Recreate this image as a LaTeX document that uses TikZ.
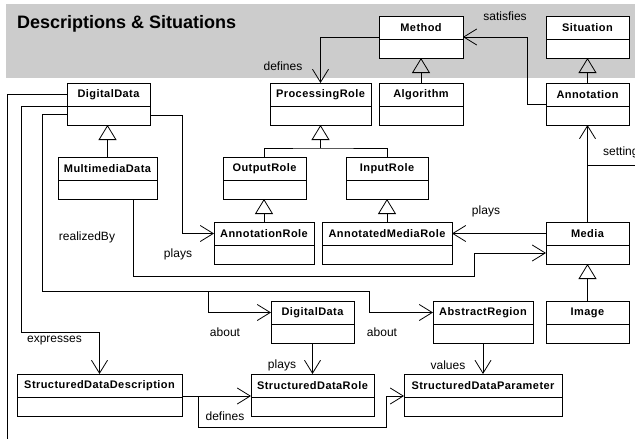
\documentclass[tikz,border=0pt]{standalone}
\usepackage{fontspec}
\setmainfont{Liberation Sans}
\newfontfamily\clsfont[LetterSpace=4]{Liberation Sans}
\usetikzlibrary{arrows.meta,calc}
\definecolor{bandgray}{RGB}{204,204,204}
\tikzset{
  clsbox/.style={draw=black, line width=0.9pt, fill=white, rectangle, inner sep=0pt, outer sep=0pt},
  clsname/.style={font=\clsfont\bfseries\fontsize{11}{13}\selectfont, inner sep=0pt},
  divline/.style={line width=0.9pt},
  conn/.style={line width=0.8pt, draw=black},
  assoc/.style={conn, -{Straight Barb[length=13pt,width=16pt,line width=0.8pt]}},
  gen/.style={conn, -{Triangle[open,length=15pt,width=18pt,line width=0.8pt]}},
  lbl/.style={font=\fontsize{12}{14}\selectfont, inner sep=0pt},
}
\newcommand\umlcls[6]{%
  \node[clsbox, minimum width={#4-#2}, minimum height={#5-#3}] (#1) at ({(#2+#4)/2},{(#3+#5)/2}) {};
  \node[clsname] (#1-t) at ({(#2+#4)/2},{#3+11.5}) {#6};
  \draw[divline] ({#2},{#3+23}) -- ({#4},{#3+23});
}
\begin{document}
\begin{tikzpicture}[x=1pt,y=-1pt]
\useasboundingbox (0,0) rectangle (635,439);
\clip (0,0) rectangle (635,439);
\fill[bandgray] (6,4) rectangle (640,78);
\node[font=\bfseries\fontsize{18}{20}\selectfont, anchor=base west, inner sep=0pt] (title) at (17,28) {Descriptions \& Situations};

\umlcls{meth}{379}{16}{463}{58}{Method}
\umlcls{sit}{546}{16}{629}{58}{Situation}
\umlcls{dd}{67}{83}{150}{125}{DigitalData}
\umlcls{pr}{270}{83}{371}{125}{ProcessingRole}
\umlcls{alg}{379}{83}{463}{125}{Algorithm}
\umlcls{ann}{546}{83}{629}{125}{Annotation}
\umlcls{mmd}{58}{157}{157}{199}{MultimediaData}
\umlcls{outr}{223}{157}{306}{199}{OutputRole}
\umlcls{inr}{346}{157}{428}{199}{InputRole}
\umlcls{ar}{214}{222}{314}{264}{AnnotationRole}
\umlcls{amr}{322}{222}{452}{264}{AnnotatedMediaRole}
\umlcls{media}{546}{222}{629}{264}{Media}
\umlcls{dd2}{271}{301}{354}{343}{DigitalData}
\umlcls{absr}{433}{301}{533}{343}{AbstractRegion}
\umlcls{img}{546}{301}{629}{343}{Image}
\umlcls{sdd}{17}{374}{182}{416}{StructuredDataDescription}
\umlcls{sdr}{251}{374}{374}{416}{StructuredDataRole}
\umlcls{sdp}{404}{374}{562}{416}{StructuredDataParameter}

% generalizations
\draw[gen] (alg.north) -- (meth.south);
\draw[gen] (ann.north) -- (sit.south);
\draw[gen] (mmd.north) -- (mmd.north |- dd.south);
\coordinate (prj) at (320.5,148);
\draw[gen] (prj) -- (pr.south);
\draw[conn] (outr.north) |- (prj) -| (inr.north);
\draw[gen] (ar.north) -- (ar.north |- outr.south);
\draw[gen] (amr.north) -- (amr.north |- inr.south);
\draw[gen] (img.north) -- (media.south);

% defines (Method -> ProcessingRole)
\draw[assoc] (meth.west) -| (pr.north);
% satisfies
\coordinate (s1) at (527,104);
\draw[assoc] (ann.west |- s1) -- (s1) |- (meth.east);
% setting
\draw[assoc] (media.north) -- (ann.south);
\coordinate (sj) at (587.5,165);
\coordinate (se) at (640,165);
\draw[conn] (sj) -- (se);
% plays media -> annotated media role
\draw[assoc] (media.west |- media-t) -- (amr.east |- media-t);
% realizedBy
\coordinate (r1) at (133,276);
\coordinate (r2) at (474,253);
\draw[assoc] (mmd.south -| r1) -- (r1) -| (r2) -- (media.west |- r2);
% plays DigitalData -> AnnotationRole
\coordinate (p1) at (182,115);
\draw[assoc] (dd.east |- p1) -- (p1) |- (ar.west |- ar-t);
% about
\coordinate (a1) at (42,114);
\coordinate (a2) at (42,291);
\coordinate (a3) at (208,291);
\coordinate (a4) at (369,291);
\draw[conn] (dd.west |- a1) -- (a1) -- (a2) -- (a4);
\draw[assoc] (a3) |- (dd2.west |- dd2-t);
\draw[assoc] (a4) |- (absr.west |- absr-t);
% expresses
\coordinate (e1) at (21,106);
\coordinate (e2) at (21,332);
\draw[assoc] (dd.west |- e1) -- (e1) -- (e2) -| (sdd.north);
% outer line
\coordinate (o1) at (7,94);
\coordinate (o2) at (7,445);
\draw[conn] (dd.west |- o1) -- (o1) -- (o2);
% defines (SDD -> SDR, SDP)
\coordinate (d1) at (198,396);
\coordinate (d2) at (198,427);
\coordinate (d3) at (386,427);
\coordinate (d4) at (386,396);
\draw[assoc] (sdd.east |- d1) -- (sdr.west |- d1);
\draw[assoc] (d1) -- (d2) -- (d3) -- (d4) -- (sdp.west |- d4);
% plays DD2 -> SDR
\draw[assoc] (dd2.south) -- (sdr.north);
% values
\draw[assoc] (absr.south) -- (sdp.north);

% labels
\node[lbl] (l1) at (283,66) {defines};
\node[lbl] (l2) at (505,16) {satisfies};
\node[lbl, anchor=west] (l3) at (603,152) {setting};
\node[lbl] (l4) at (486,211) {plays};
\node[lbl] (l5) at (87,237) {realizedBy};
\node[lbl] (l6) at (178,254) {plays};
\node[lbl] (l7) at (225,332) {about};
\node[lbl] (l8) at (382,332) {about};
\node[lbl] (l9) at (54.5,341) {expresses};
\node[lbl] (l10) at (282,365) {plays};
\node[lbl] (l11) at (448,365) {values};
\node[lbl] (l12) at (225,416) {defines};
\end{tikzpicture}
\end{document}
